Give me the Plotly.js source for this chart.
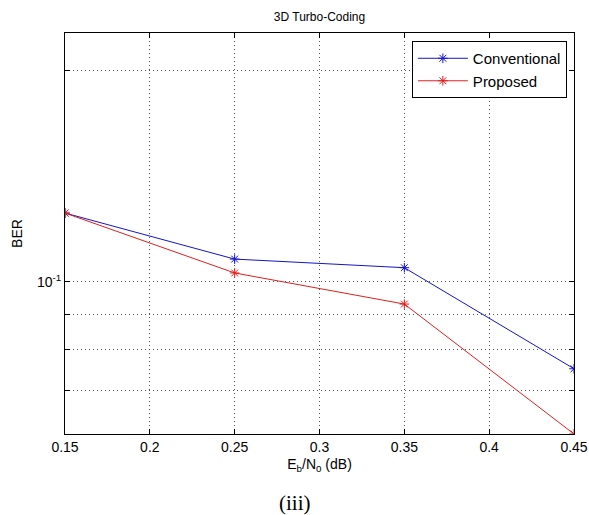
<!DOCTYPE html>
<html><head><meta charset="utf-8">
<script src="https://cdn.plot.ly/plotly-3.0.1.min.js"></script>
<style>html,body{margin:0;padding:0;background:#fff;}</style>
</head><body>
<div id="chart" style="width:589px;height:515px;"></div>
<script>
const snr = [0.15, 0.25, 0.35, 0.45];
const berConventional = [0.1254, 0.1078, 0.1048, 0.0752];
const berProposed = [0.1254, 0.1030, 0.0930, 0.0607];
const xTicks = [0.15, 0.2, 0.25, 0.3, 0.35, 0.4, 0.45];
const yTicks = [0.07, 0.08, 0.09, 0.1, 0.2];
const yTickText = ['', '', '', '10<sup>-1</sup>', ''];

const FF = 'Liberation Sans, Arial, sans-serif';
const blue = 'rgb(20,20,200)';
const red = 'rgb(225,30,30)';
const traces = [
  {x: snr, y: berConventional, name: 'Conventional', mode: 'lines+markers',
   line: {color: blue, width: 1},
   marker: {symbol: 'asterisk-open', size: 8, color: blue, line: {color: blue, width: 1}}},
  {x: snr, y: berProposed, name: 'Proposed', mode: 'lines+markers',
   line: {color: red, width: 1},
   marker: {symbol: 'asterisk-open', size: 8, color: red, line: {color: red, width: 1}}}
];
const layout = {
  width: 589, height: 515,
  margin: {l: 65, r: 15, t: 33, b: 81},
  paper_bgcolor: '#fff', plot_bgcolor: '#fff',
  font: {family: FF, size: 13, color: '#000'},
  title: {text: '3D Turbo-Coding', x: 0.5, xref: 'paper', xanchor: 'center', y: 1 - 17/515, yanchor: 'middle', font: {family: FF, size: 12, color: '#000'}},
  showlegend: true,
  legend: {x: 0.986, xanchor: 'right', y: 0.98, yanchor: 'top', bgcolor: '#fff', bordercolor: '#000', borderwidth: 1,
           itemwidth: 50, font: {family: FF, size: 15, color: '#000'}, tracegroupgap: 0},
  xaxis: {range: [0.15, 0.45], tickvals: xTicks, ticktext: xTicks.map(String), ticks: 'inside', ticklen: 5, tickcolor: '#000',
          showline: true, linecolor: '#000', linewidth: 1, mirror: 'ticks', ticklabeloverflow: 'allow',
          showgrid: true, gridcolor: '#555', griddash: '1px,3px', gridwidth: 1, zeroline: false,
          tickfont: {family: FF, size: 14, color: '#000'},
          title: {text: 'E<sub>b</sub>/N<sub>0</sub> (dB)', standoff: 5, font: {family: FF, size: 14, color: '#000'}}},
  yaxis: {type: 'log', range: [Math.log10(0.0607), Math.log10(0.2265)], tickvals: yTicks, ticktext: yTickText,
          ticks: 'inside', ticklen: 5, tickcolor: '#000', showline: true, linecolor: '#000', linewidth: 1, mirror: 'ticks',
          showgrid: true, gridcolor: '#555', griddash: '1px,3px', gridwidth: 1, zeroline: false,
          tickfont: {family: FF, size: 14, color: '#000'},
          title: {text: 'BER', standoff: 11, font: {family: FF, size: 14, color: '#000'}}},
  annotations: [{text: '(iii)', xref: 'paper', yref: 'paper', x: 0.452, y: -0.172, yanchor: 'middle', xanchor: 'center', showarrow: false,
                 font: {family: 'Liberation Serif, Times New Roman, serif', size: 21, color: '#000'}}]
};
Plotly.newPlot('chart', traces, layout, {displayModeBar: false, staticPlot: true});
</script>
</body></html>
